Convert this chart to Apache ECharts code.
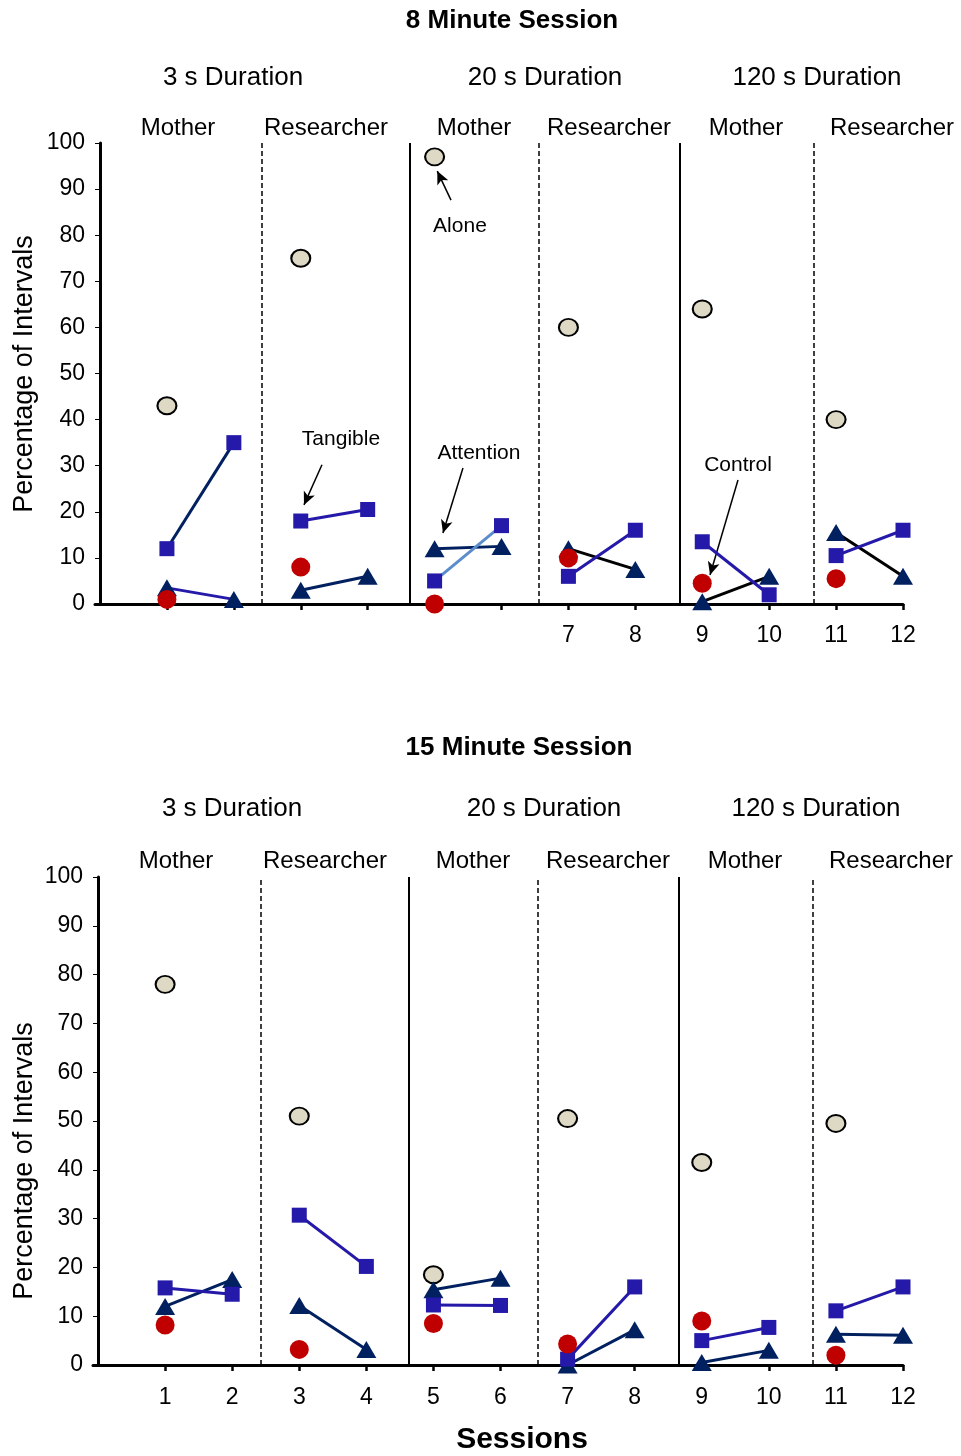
<!DOCTYPE html>
<html><head><meta charset="utf-8">
<script src="https://cdn.jsdelivr.net/npm/echarts@6/dist/echarts.min.js"></script>
<style>html,body{margin:0;padding:0;background:#fff}#c{width:961px;height:1456px}</style>
</head><body><div id="c"></div>
<script>
// ---------- data ----------
const sessions = [1,2,3,4,5,6,7,8,9,10,11,12];
const probeSessions = [1,3,5,7,9,11];
// 8 minute session
const alone8 = [43, 75, 97, 60, 64, 40];
const control8 = [1, 8, 0, 10, 4.5, 5.5];
const tangible8 = [12, 35, 18, 20.5, 5, 17, 6, 16, 13.5, 2, 10.5, 16];
const attention8 = [3.5, 1, 3, 6, 12, 12.5, 12, 7.5, 0.5, 6, 15.5, 6];
// 15 minute session
const alone15 = [78, 51, 18.5, 50.5, 41.5, 49.5];
const control15 = [8.2, 3.2, 8.5, 4.3, 9, 2];
const tangible15 = [15.8, 14.5, 30.7, 20.2, 12.3, 12.2, 1.2, 16, 5, 7.7, 11.1, 16];
const attention15 = [12, 17.5, 12.2, 3.2, 15.4, 17.8, 0, 7.2, 0.5, 3, 6.3, 6.1];
// labels
const topXLabels = [7,8,9,10,11,12];
const bottomXLabels = [1,2,3,4,5,6,7,8,9,10,11,12];
const durations = ['3 s Duration', '20 s Duration', '120 s Duration'];
const therapists = ['Mother', 'Researcher', 'Mother', 'Researcher', 'Mother', 'Researcher'];
const panelTitles = ['8 Minute Session', '15 Minute Session'];
const phaseBreaks = [2.42, 4.63, 6.56, 8.665, 10.66];
const phaseBreakKinds = ['dashed', 'solid', 'dashed', 'solid', 'dashed'];

// ---------- styles ----------
const FONT = '"Liberation Sans", Arial, sans-serif';
const BLUE = '#2419a8', NAVY = '#002060', LIGHT = '#5b8dcc', RED = '#c00000', BEIGE = '#ddd9c4';
const tangLineColors = [[NAVY, BLUE, LIGHT, BLUE, BLUE, BLUE], [BLUE, BLUE, BLUE, BLUE, BLUE, BLUE]];
const attnLineColors = [[BLUE, NAVY, NAVY, '#000', '#000', '#000'], [NAVY, NAVY, NAVY, NAVY, NAVY, NAVY]];

const chart = echarts.init(document.getElementById('c'), null, {renderer: 'canvas'});

const grids = [
  {left: 95, width: 808, top: 143, height: 461},
  {left: 93, width: 810, top: 877, height: 488}
];

function xAxisFor(gi, labels, margin) {
  return {
    type: 'value', gridIndex: gi, min: -0.075, max: 12,
    axisLine: {show: true, lineStyle: {color: '#000', width: 3}},
    axisTick: {show: true, customValues: sessions, length: 6, lineStyle: {color: '#000', width: 2.5}},
    axisLabel: {show: true, customValues: labels, color: '#000', fontSize: 23, fontFamily: FONT, margin: margin},
    splitLine: {show: false}
  };
}
function yAxisFor(gi) {
  return {
    type: 'value', gridIndex: gi, min: 0, max: 100, interval: 10,
    axisLine: {show: true, lineStyle: {color: '#000', width: 3}},
    axisTick: {show: true, length: 5, lineStyle: {color: '#000', width: 1}},
    axisLabel: {color: '#000', fontSize: 23, fontFamily: FONT, margin: 10, padding: [9, 0, 0, 0]},
    splitLine: {show: false}
  };
}

function phaseMarkLine() {
  return {
    silent: true, symbol: ['none', 'none'], label: {show: false}, animation: false,
    data: phaseBreaks.map((v, i) => ({
      xAxis: v,
      lineStyle: {color: '#000', width: phaseBreakKinds[i] === 'solid' ? 2 : 1.5,
        type: phaseBreakKinds[i] === 'solid' ? 'solid' : [5, 3]}
    }))
  };
}

const annotationArrows = [
  [[5.245, 87.6], [5.04, 93.9]],
  [[5.424, 29.5], [5.125, 15.4]],
  [[3.317, 30.2], [3.048, 21.5]],
  [[9.534, 26.9], [9.116, 6.3]]
];
const annotationTexts = [
  ['Alone', 5.379, 82.2], ['Attention', 5.663, 33.0], ['Tangible', 3.601, 36.0], ['Control', 9.534, 30.4]
];

function panelSeries(gi, alone, control, tangible, attention) {
  const s = [];
  const ml = phaseMarkLine();
  if (gi === 0) {
    annotationArrows.forEach(a => ml.data.push([
      {coord: a[0], symbol: 'none', lineStyle: {color: '#000', width: 1.5, type: 'solid'}},
      {coord: a[1], symbol: 'arrow', symbolSize: [9, 13]}
    ]));
  }
  s.push({
    type: 'scatter', xAxisIndex: gi, yAxisIndex: gi, name: 'Alone',
    data: probeSessions.map((x, i) => [x, alone[i]]),
    symbol: 'circle', symbolSize: [19, 17],
    itemStyle: {color: BEIGE, borderColor: '#000', borderWidth: 2, opacity: 1},
    z: 3, markLine: ml
  });
  for (let p = 0; p < 6; p++) {
    const a = 2 * p, b = 2 * p + 1;
    s.push({
      type: 'line', xAxisIndex: gi, yAxisIndex: gi, name: 'Attention',
      data: [[sessions[a], attention[a]], [sessions[b], attention[b]]],
      symbol: 'triangle', symbolSize: [20, 17], showSymbol: true,
      itemStyle: {color: NAVY, borderWidth: 0},
      lineStyle: {color: attnLineColors[gi][p], width: 3}, z: 4
    });
    s.push({
      type: 'line', xAxisIndex: gi, yAxisIndex: gi, name: 'Tangible',
      data: [[sessions[a], tangible[a]], [sessions[b], tangible[b]]],
      symbol: 'rect', symbolSize: 15, showSymbol: true,
      itemStyle: {color: BLUE, borderWidth: 0},
      lineStyle: {color: tangLineColors[gi][p], width: 3}, z: 5
    });
  }
  s.push({
    type: 'scatter', xAxisIndex: gi, yAxisIndex: gi, name: 'Control',
    data: probeSessions.map((x, i) => [x, control[i]]),
    symbol: 'circle', symbolSize: 19,
    itemStyle: {color: RED, opacity: 1}, z: 6
  });
  return s;
}

const option = {
  animation: false,
  backgroundColor: '#fff',
  grid: grids,
  xAxis: [xAxisFor(0, topXLabels, 20), xAxisFor(1, bottomXLabels, 21)],
  yAxis: [yAxisFor(0), yAxisFor(1)],
  series: [].concat(
    panelSeries(0, alone8, control8, tangible8, attention8),
    panelSeries(1, alone15, control15, tangible15, attention15)
  )
};
chart.setOption(option);

// ---------- text layout ----------
function txt(text, x, y, size, bold, rotation) {
  return {
    type: 'text', x: x, y: y, rotation: rotation || 0, silent: true, z: 10,
    style: {text: text, fill: '#000', font: (bold ? 'bold ' : '') + size + 'px ' + FONT,
      align: 'center', verticalAlign: 'middle', textAlign: 'center', textVerticalAlign: 'middle'}
  };
}
const durationX = [[233, 545, 817], [232, 544, 816]];
const therapistX = [[178, 326, 474, 609, 746, 892], [176, 325, 473, 608, 745, 891]];
const titleY = [21, 748], titleX = [512, 519];
const durationY = [78, 809], therapistY = [128, 861];
const yNameY = [374, 1161];
const gfx = [];
for (let gi = 0; gi < 2; gi++) {
  gfx.push(txt(panelTitles[gi], titleX[gi], titleY[gi], 26, true));
  durations.forEach((d, i) => gfx.push(txt(d, durationX[gi][i], durationY[gi], 26, false)));
  therapists.forEach((t, i) => gfx.push(txt(t, therapistX[gi][i], therapistY[gi], 24, false)));
  gfx.push(txt('Percentage of Intervals', 25, yNameY[gi], 27, false, Math.PI / 2));
}
gfx.push(txt('Sessions', 522, 1440, 30, true));
annotationTexts.forEach(t => {
  const p = chart.convertToPixel({gridIndex: 0}, [t[1], t[2]]);
  gfx.push(txt(t[0], p[0], p[1] + 1, 21, false));
});
chart.setOption({graphic: gfx});
</script></body></html>
